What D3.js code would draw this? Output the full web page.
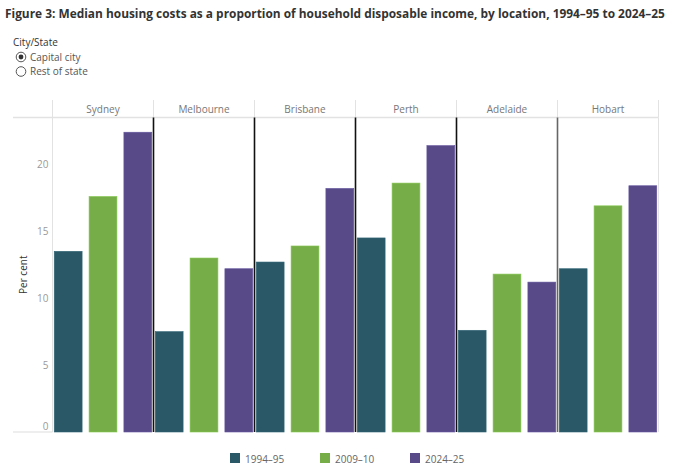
<!DOCTYPE html>
<html>
<head>
<meta charset="utf-8">
<script src="https://cdn.jsdelivr.net/npm/d3@7"></script>
<style>
  body { margin: 0; background: #fff; }
  svg { display: block; font-family: "Open Sans", sans-serif; }
</style>
</head>
<body>
<svg id="chart" width="680" height="471"></svg>
<script>
// values
var locations = ["Sydney", "Melbourne", "Brisbane", "Perth", "Adelaide", "Hobart"];
var periods = ["1994–95", "2009–10", "2024–25"];
var v1994 = [13.5, 7.5, 12.7, 14.5, 7.6, 12.2];
var v2009 = [17.6, 13.0, 13.9, 18.6, 11.8, 16.9];
var v2024 = [22.4, 12.2, 18.2, 21.4, 11.2, 18.4];
var yTicks = [0, 5, 10, 15, 20];
var colours = ["#2a5866", "#76ad48", "#584a89"];

var series = [v1994, v2009, v2024];
var rows = [];
locations.forEach(function (loc, i) {
    periods.forEach(function (p, j) {
        rows.push({ loc: loc, period: p, value: series[j][i] });
    });
});

var svg = d3.select("#chart");
var plotL = 52.5, plotR = 658.5, plotT = 117.5, plotB = 432;

// title
svg.append("text")
    .attr("x", 5).attr("y", 18)
    .attr("font-size", 11.9).attr("font-weight", 700).attr("fill", "#333")
    .text("Figure 3: Median housing costs as a proportion of household disposable income, by location, 1994–95 to 2024–25");

// city/state selector (static)
svg.append("text")
    .attr("x", 13).attr("y", 46)
    .attr("font-size", 10).attr("fill", "#333")
    .text("City/State");
var opts = ["Capital city", "Rest of state"];
opts.forEach(function (o, i) {
    var cy = 57 + i * 14.5;
    svg.append("circle").attr("cx", 21).attr("cy", cy).attr("r", 4.8)
        .attr("fill", "#fff").attr("stroke", "#555").attr("stroke-width", 1);
    if (i === 0) {
        svg.append("circle").attr("cx", 21).attr("cy", cy).attr("r", 2.4).attr("fill", "#333");
    }
    svg.append("text").attr("x", 30).attr("y", cy + 3.5)
        .attr("font-size", 10).attr("fill", "#555").text(o);
});

var x0 = d3.scaleBand().domain(locations).range([plotL, plotR]);
var x1 = d3.scaleBand().domain(periods).range([0, x0.bandwidth()])
    .paddingInner(0.2).paddingOuter(0.05);
var y = d3.scaleLinear().domain([0, 23.5]).range([plotB, plotT]);
var colour = d3.scaleOrdinal().domain(periods).range(colours);

// header row
svg.append("line")
    .attr("x1", 13).attr("x2", plotR).attr("y1", plotT).attr("y2", plotT)
    .attr("stroke", "#e2e2e2").attr("stroke-width", 1.5);
svg.selectAll(".hdr")
    .data(locations)
    .enter().append("text")
    .attr("class", "hdr")
    .attr("x", function (d) { return x0(d) + x0.bandwidth() / 2; })
    .attr("y", 113)
    .attr("text-anchor", "middle")
    .attr("font-size", 10).attr("fill", "#777")
    .text(function (d) { return d; });
svg.selectAll(".hsep")
    .data(locations.concat(["end"]))
    .enter().append("line")
    .attr("class", "hsep")
    .attr("x1", function (d, i) { return plotL + i * x0.bandwidth(); })
    .attr("x2", function (d, i) { return plotL + i * x0.bandwidth(); })
    .attr("y1", 100).attr("y2", plotT)
    .attr("stroke", "#e2e2e2");

// outer panel borders
svg.append("line").attr("x1", plotL).attr("x2", plotL).attr("y1", plotT).attr("y2", plotB)
    .attr("stroke", "#e2e2e2");
svg.append("line").attr("x1", plotR).attr("x2", plotR).attr("y1", plotT).attr("y2", plotB)
    .attr("stroke", "#e2e2e2");

// y axis
var yAxis = svg.append("g")
    .attr("transform", "translate(" + (plotL - 4) + ",0)")
    .call(d3.axisLeft(y).tickValues(yTicks).tickSize(0).tickPadding(0));
yAxis.select(".domain").remove();
yAxis.selectAll("text")
    .attr("font-family", "Open Sans, sans-serif")
    .attr("font-size", 10).attr("fill", "#999")
    .attr("dy", function (d) { return d === 0 ? "-0.3em" : "0.32em"; });
svg.append("line").attr("x1", 13).attr("x2", plotL).attr("y1", plotB).attr("y2", plotB)
    .attr("stroke", "#ddd");
svg.append("text")
    .attr("transform", "translate(27," + ((plotT + plotB) / 2) + ") rotate(-90)")
    .attr("text-anchor", "middle")
    .attr("font-size", 10).attr("fill", "#333")
    .text("Per cent");

// bars
svg.selectAll(".bar")
    .data(rows)
    .enter().append("rect")
    .attr("class", "bar")
    .attr("x", function (d) { return x0(d.loc) + x1(d.period); })
    .attr("width", x1.bandwidth())
    .attr("y", function (d) { return y(d.value); })
    .attr("height", function (d) { return y(0) - y(d.value); })
    .attr("fill", function (d) { return colour(d.period); })
    .attr("stroke", function (d) { return d3.color(colour(d.period)).brighter(0.4); })
    .attr("stroke-width", 0.6);

// dark separators between panels
svg.selectAll(".sep")
    .data(locations.slice(1))
    .enter().append("line")
    .attr("class", "sep")
    .attr("x1", function (d) { return x0(d); })
    .attr("x2", function (d) { return x0(d); })
    .attr("y1", plotT).attr("y2", plotB)
    .attr("stroke", function (d, i) { return i === 4 ? "#666" : "#111"; })
    .attr("stroke-width", 1.6);

// legend
var lg = svg.selectAll(".lg")
    .data(periods)
    .enter().append("g")
    .attr("class", "lg")
    .attr("transform", function (d, i) { return "translate(" + (230 + i * 90) + ",453)"; });
lg.append("rect").attr("width", 10).attr("height", 10)
    .attr("fill", function (d) { return colour(d); });
lg.append("text").attr("x", 15).attr("y", 9.5)
    .attr("font-size", 10).attr("fill", "#666")
    .text(function (d) { return d; });
</script>
</body>
</html>
